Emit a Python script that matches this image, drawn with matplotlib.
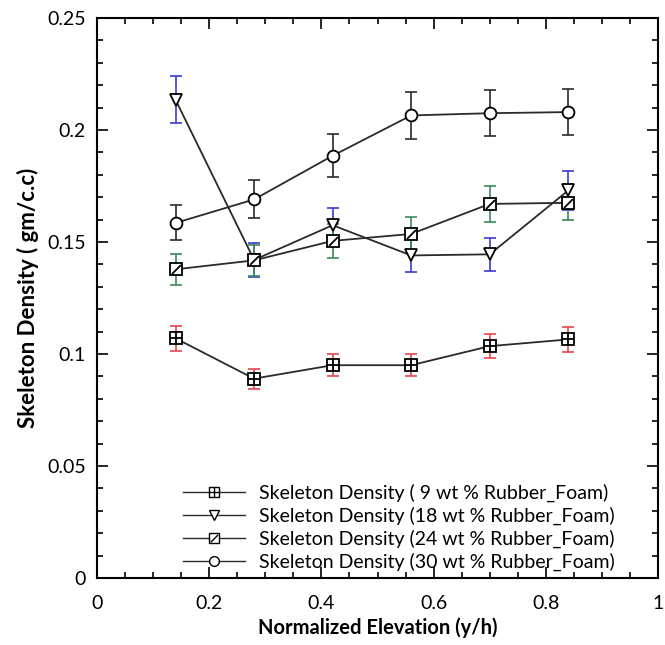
import matplotlib
matplotlib.use("Agg")
import matplotlib.pyplot as plt
from matplotlib.path import Path
from matplotlib.lines import Line2D
from matplotlib.ticker import MultipleLocator
from matplotlib.legend_handler import HandlerTuple

# ---- data ----
x = [0.14, 0.28, 0.42, 0.56, 0.70, 0.84]
d9 = [0.107, 0.089, 0.095, 0.095, 0.1035, 0.1065]
e9 = [0.0055, 0.0045, 0.005, 0.005, 0.0055, 0.0055]
d18 = [0.2135, 0.142, 0.1575, 0.144, 0.1445, 0.173]
e18 = [0.0105, 0.0075, 0.0075, 0.0075, 0.0075, 0.0085]
d24 = [0.1378, 0.1418, 0.1505, 0.1536, 0.167, 0.1675]
e24 = [0.0068, 0.007, 0.0075, 0.0075, 0.008, 0.0075]
d30 = [0.1585, 0.169, 0.1885, 0.2065, 0.2075, 0.208]
e30 = [0.0078, 0.0085, 0.0095, 0.0103, 0.0103, 0.0104]

labels = [
    "Skeleton Density ( 9 wt % Rubber_Foam)",
    "Skeleton Density (18 wt % Rubber_Foam)",
    "Skeleton Density (24 wt % Rubber_Foam)",
    "Skeleton Density (30 wt % Rubber_Foam)",
]
xticks = [0, 0.2, 0.4, 0.6, 0.8, 1]
xticklabels = ["0", "0.2", "0.4", "0.6", "0.8", "1"]
yticks = [0, 0.05, 0.1, 0.15, 0.2, 0.25]
yticklabels = ["0", "0.05", "0.1", "0.15", "0.2", "0.25"]

plt.rcParams['font.family'] = ['Lato', 'DejaVu Sans']

fig = plt.figure(figsize=(6.65, 6.45), dpi=100)
ax = fig.add_axes([97/665, 1-578/645, 561/665, 560/645])

LC = '#2a2a2a'
MS = 8.5
slash = Path([(-1, -1), (1, 1)], [Path.MOVETO, Path.LINETO])

def series(y, e, ecol, marker, overlay=None, osize=None):
    ax.errorbar(x, y, yerr=e, fmt='none', ecolor=ecol, elinewidth=1.2,
                capsize=4, capthick=1.2, zorder=2)
    ax.plot(x, y, color=LC, lw=1.3, zorder=3)
    ax.plot(x, y, ls='none', marker=marker, ms=MS, mfc='white', mec='black',
            mew=1.3, zorder=4)
    lsz = 7
    handles = [Line2D([], [], color=LC, lw=1.0, marker=marker, ms=lsz,
                      mfc='white', mec='black', mew=1.0)]
    if overlay is not None:
        ax.plot(x, y, ls='none', marker=overlay, ms=osize, mec='black',
                mew=1.3, zorder=5)
        handles.append(Line2D([], [], ls='none', marker=overlay,
                              ms=osize * lsz / MS, mec='black', mew=1.0))
    return tuple(handles)

h9 = series(d9, e9, '#e8454d', 's', '+', MS)
h18 = series(d18, e18, '#3b3bd0', 'v')
h24 = series(d24, e24, '#3c8a5c', 's', slash, MS * 0.75)
h30 = series(d30, e30, '#2a2a2a', 'o')

ax.set_xlim(0, 1)
ax.set_ylim(0, 0.25)
ax.set_xticks(xticks)
ax.set_xticklabels(xticklabels)
ax.set_yticks(yticks)
ax.set_yticklabels(yticklabels)
ax.xaxis.set_minor_locator(MultipleLocator(0.05))
ax.yaxis.set_minor_locator(MultipleLocator(0.01))
ax.tick_params(which='both', direction='in', top=True, right=True,
               labelsize=14, width=1.2)
ax.tick_params(axis='x', which='both', pad=12)
ax.tick_params(axis='y', which='both', pad=8)
ax.tick_params(which='major', length=8)
ax.tick_params(which='minor', length=4)
for s in ax.spines.values():
    s.set_linewidth(1.5)

ax.set_xlabel("Normalized Elevation (y/h)", fontsize=14.5, fontweight='bold',
              labelpad=4)
ax.set_ylabel("Skeleton Density ( gm/c.c)", fontsize=16, fontweight='bold',
              labelpad=6)

leg = ax.legend([h9, h18, h24, h30], labels, loc='lower left',
                bbox_to_anchor=((183-97)/561, 0.012), frameon=False,
                fontsize=14, handlelength=3.2, handletextpad=0.7,
                labelspacing=0.25, borderpad=0, borderaxespad=0,
                handler_map={tuple: HandlerTuple(ndivide=1, pad=0)})

fig.savefig("out.png", dpi=100)
